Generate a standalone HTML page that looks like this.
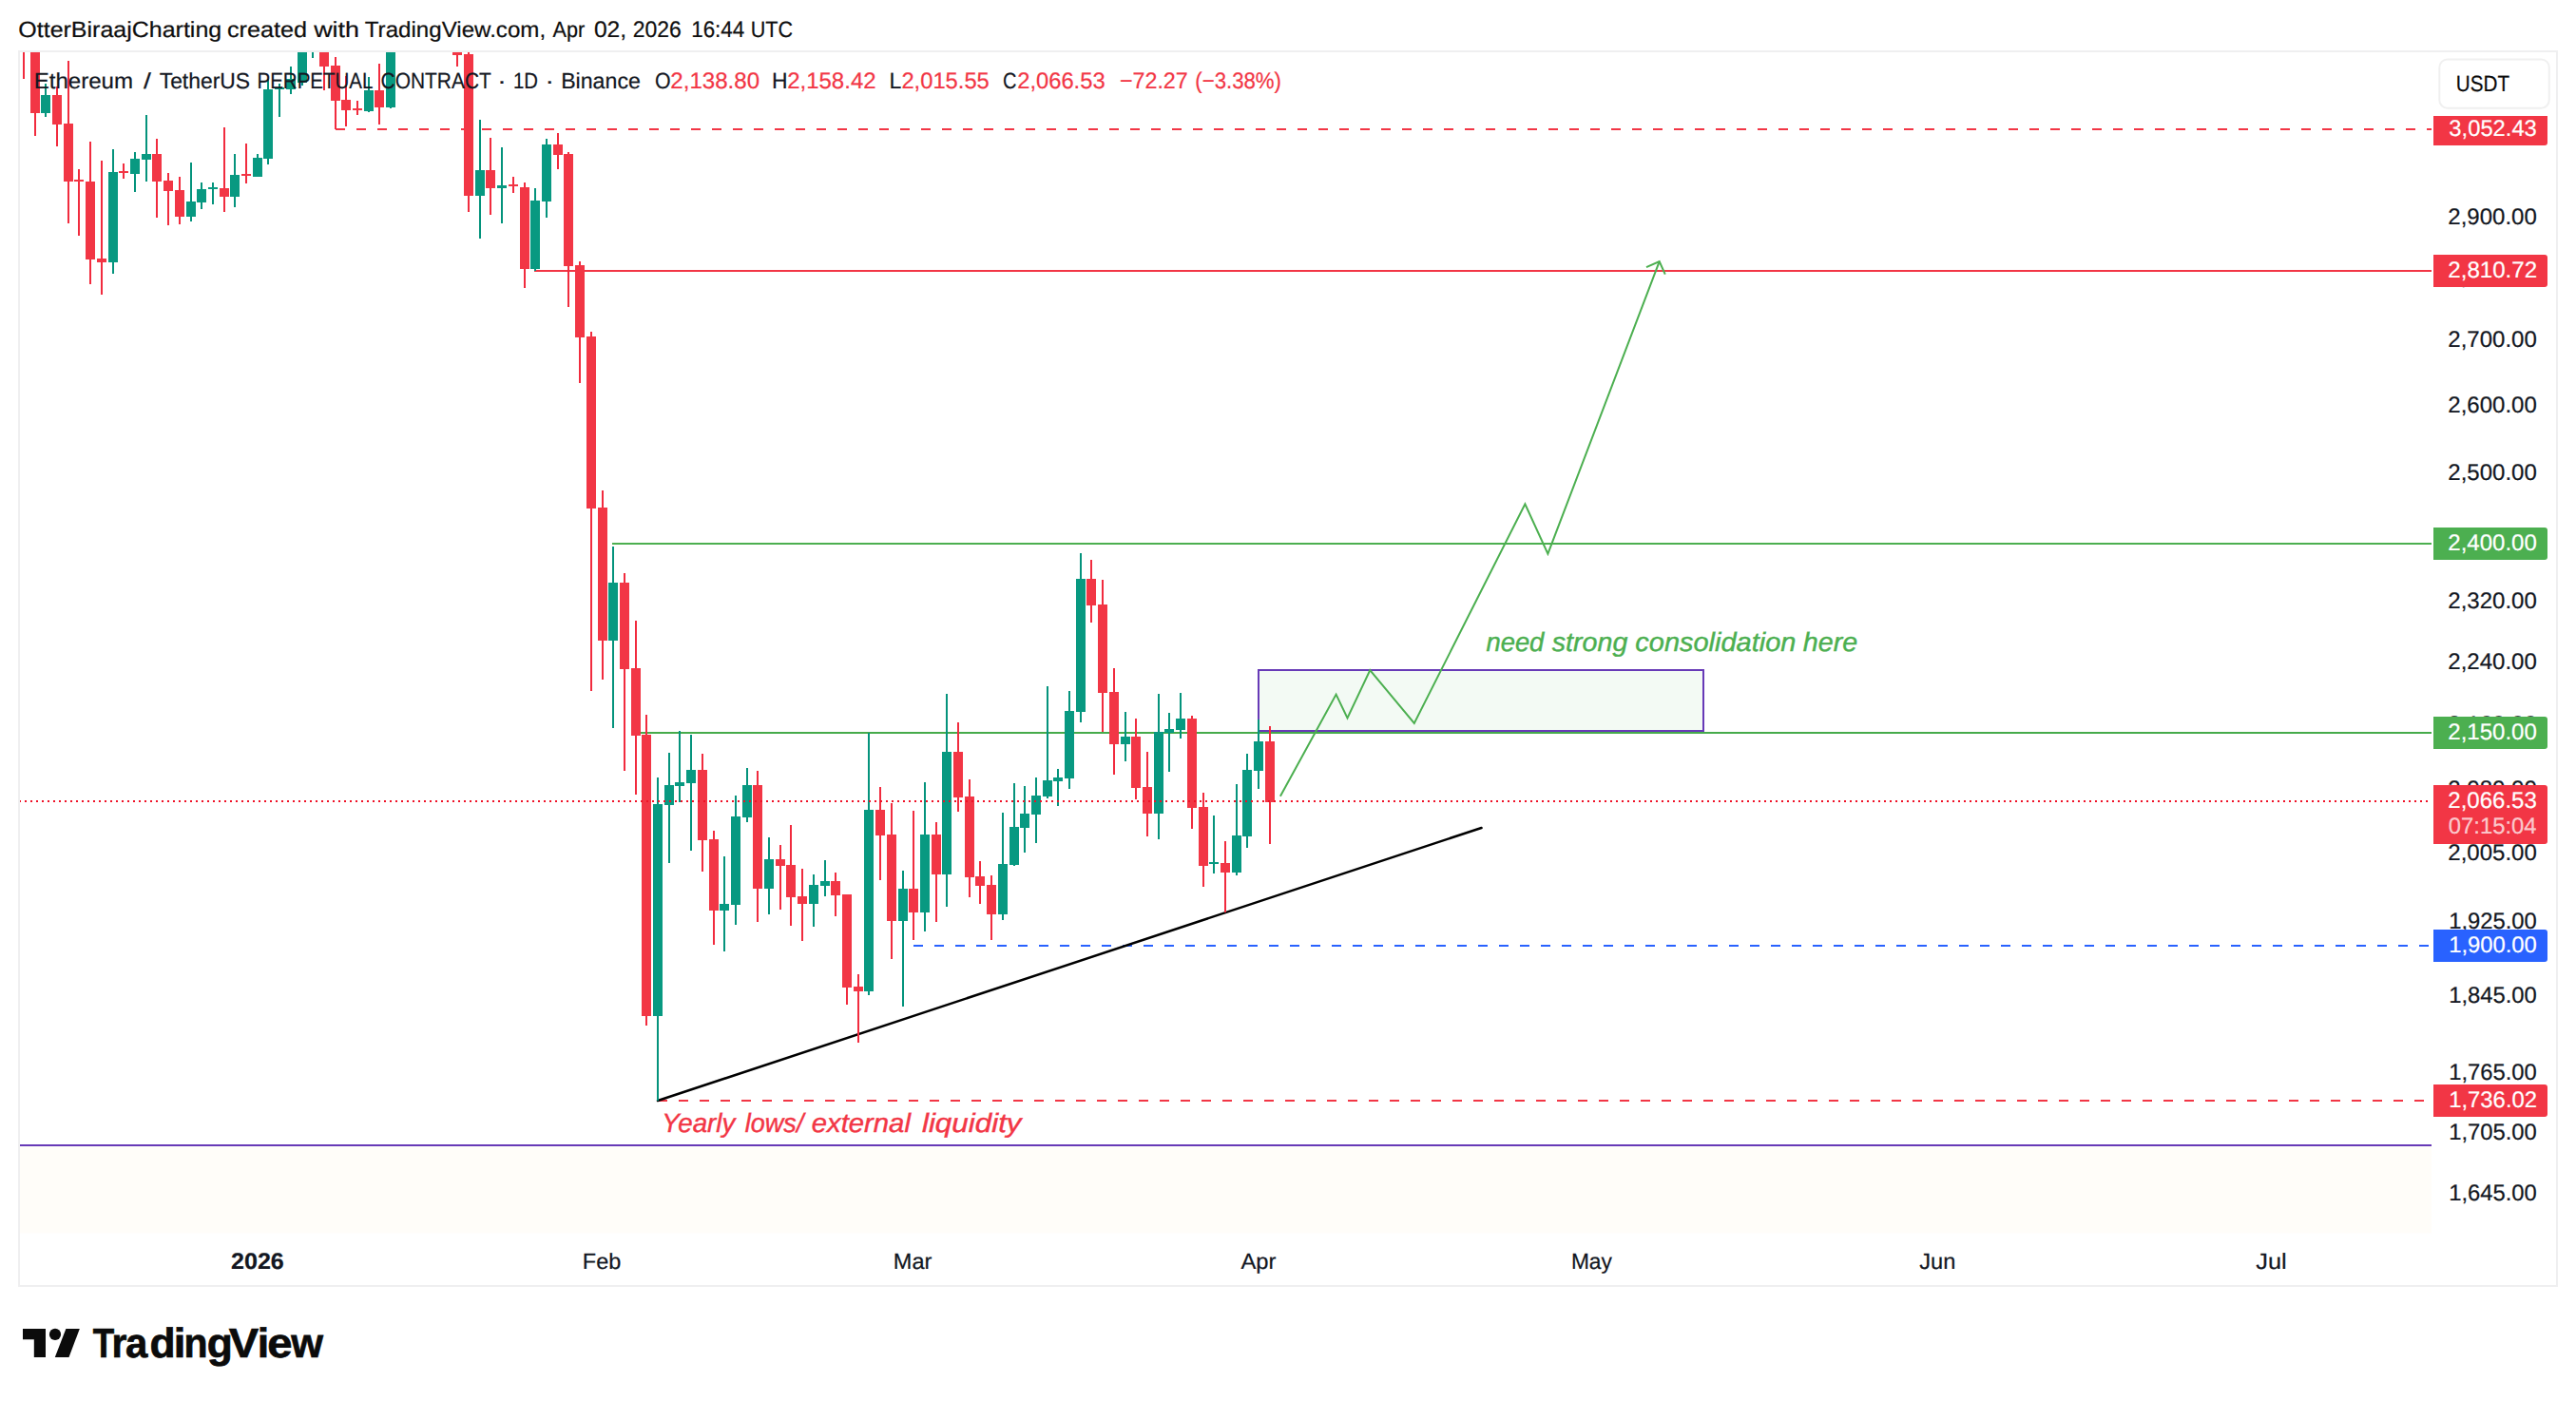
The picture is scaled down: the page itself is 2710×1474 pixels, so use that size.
<!DOCTYPE html>
<html><head><meta charset="utf-8"><title>ETHUSDT.P chart</title>
<style>html,body{margin:0;padding:0;background:#fff}svg{display:block}text{font-family:"Liberation Sans",Arial,sans-serif;white-space:pre;text-rendering:geometricPrecision}</style>
</head><body>
<svg width="2710" height="1474" viewBox="0 0 2710 1474">
<defs><clipPath id="pane"><rect x="21" y="55" width="2537" height="1243"/></clipPath></defs>
<rect width="2710" height="1474" fill="#fff"/>
<!-- header -->
<text><tspan x="19.33" y="38.8" font-size="23.3" fill="#0F0F0F" textLength="213.88" lengthAdjust="spacingAndGlyphs" stroke="#0F0F0F" stroke-width="0.22">OtterBiraajCharting</tspan> <tspan x="238.92" y="38.8" font-size="23.3" fill="#0F0F0F" textLength="84.07" lengthAdjust="spacingAndGlyphs" stroke="#0F0F0F" stroke-width="0.22">created</tspan> <tspan x="330.20" y="38.8" font-size="23.3" fill="#0F0F0F" textLength="47.86" lengthAdjust="spacingAndGlyphs" stroke="#0F0F0F" stroke-width="0.22">with</tspan> <tspan x="383.78" y="38.8" font-size="23.3" fill="#0F0F0F" textLength="190.32" lengthAdjust="spacingAndGlyphs" stroke="#0F0F0F" stroke-width="0.22">TradingView.com,</tspan> <tspan x="581.60" y="38.8" font-size="23.3" fill="#0F0F0F" textLength="33.65" lengthAdjust="spacingAndGlyphs" stroke="#0F0F0F" stroke-width="0.22">Apr</tspan> <tspan x="624.93" y="38.8" font-size="24.0" fill="#0F0F0F" textLength="34.25" lengthAdjust="spacingAndGlyphs" stroke="#0F0F0F" stroke-width="0.22">02,</tspan> <tspan x="665.74" y="38.8" font-size="24.0" fill="#0F0F0F" textLength="51.11" lengthAdjust="spacingAndGlyphs" stroke="#0F0F0F" stroke-width="0.22">2026</tspan> <tspan x="727.16" y="38.8" font-size="24.0" fill="#0F0F0F" textLength="56.16" lengthAdjust="spacingAndGlyphs" stroke="#0F0F0F" stroke-width="0.22">16:44</tspan> <tspan x="789.80" y="38.8" font-size="23.6" fill="#0F0F0F" textLength="44.31" lengthAdjust="spacingAndGlyphs" stroke="#0F0F0F" stroke-width="0.22">UTC</tspan></text>
<g clip-path="url(#pane)">
<!-- cream zone -->
<rect x="21" y="1206" width="2537" height="91.5" fill="#FFFDF9"/>
<rect x="21" y="1204" width="2537" height="2" fill="#673AB7"/>
<!-- horizontal rays -->
<line x1="353" y1="136" x2="2558" y2="136" stroke="#F23645" stroke-width="2" stroke-dasharray="10 12"/>
<rect x="562" y="284" width="1996" height="2" fill="#F23645"/>
<rect x="644" y="571" width="1914" height="2" fill="#4CAF50"/>
<rect x="668" y="770" width="1890" height="2" fill="#46AB4B"/>
<line x1="961" y1="995" x2="2558" y2="995" stroke="#2962FF" stroke-width="2" stroke-dasharray="10 12"/>
<line x1="692" y1="1158" x2="2558" y2="1158" stroke="#F23645" stroke-width="2" stroke-dasharray="10 12"/>
<!-- consolidation box -->
<rect x="1324" y="705" width="468" height="64" fill="#F3FAF4" stroke="#673AB7" stroke-width="2"/>
<!-- trendline -->
<line x1="692" y1="1158" x2="1558.5" y2="871" stroke="#000" stroke-width="2.5" stroke-linecap="round"/>
<!-- projection path -->
<polyline points="1346.9,837.8 1405.6,730.6 1417.5,755.4 1441.3,705 1487.8,760.9 1604.4,530.3 1628.4,582.7 1745.7,275.1" fill="none" stroke="#4CAF50" stroke-width="2" stroke-linejoin="miter" stroke-linecap="butt"/>
<polyline points="1732,281.2 1745.7,275.1 1751.8,288.7" fill="none" stroke="#4CAF50" stroke-width="2"/>
<text><tspan x="1563.41" y="684.7" font-size="28.1" fill="#4CAF50" textLength="60.96" lengthAdjust="spacingAndGlyphs" font-style="italic" stroke="#4CAF50" stroke-width="0.4">need</tspan> <tspan x="1632.70" y="684.7" font-size="28.1" fill="#4CAF50" textLength="79.65" lengthAdjust="spacingAndGlyphs" font-style="italic" stroke="#4CAF50" stroke-width="0.4">strong</tspan> <tspan x="1720.33" y="684.7" font-size="28.1" fill="#4CAF50" textLength="169.06" lengthAdjust="spacingAndGlyphs" font-style="italic" stroke="#4CAF50" stroke-width="0.4">consolidation</tspan> <tspan x="1896.79" y="684.7" font-size="28.1" fill="#4CAF50" textLength="57.42" lengthAdjust="spacingAndGlyphs" font-style="italic" stroke="#4CAF50" stroke-width="0.4">here</tspan></text><text><tspan x="696.24" y="1191.4" font-size="28.1" fill="#F23645" textLength="77.17" lengthAdjust="spacingAndGlyphs" font-style="italic" stroke="#F23645" stroke-width="0.4">Yearly</tspan> <tspan x="783.82" y="1191.4" font-size="28.1" fill="#F23645" textLength="61.59" lengthAdjust="spacingAndGlyphs" font-style="italic" stroke="#F23645" stroke-width="0.4">lows/</tspan><tspan x="853.72" y="1191.4" font-size="28.1" fill="#F23645" textLength="104.21" lengthAdjust="spacingAndGlyphs" font-style="italic" stroke="#F23645" stroke-width="0.4">external</tspan> <tspan x="969.94" y="1191.4" font-size="28.1" fill="#F23645" textLength="104.61" lengthAdjust="spacingAndGlyphs" font-style="italic" stroke="#F23645" stroke-width="0.4">liquidity</tspan></text>
<!-- candles -->
<rect x="24" y="40" width="2" height="43" fill="#F12B3E"/>
<rect x="36" y="40" width="2" height="103" fill="#F12B3E"/>
<rect x="32" y="40" width="10" height="79" fill="#F23645"/>
<rect x="47" y="88" width="2" height="35" fill="#04937C"/>
<rect x="43" y="100" width="10" height="19" fill="#089981"/>
<rect x="59" y="91" width="2" height="63" fill="#F12B3E"/>
<rect x="55" y="100" width="10" height="31" fill="#F23645"/>
<rect x="71" y="64" width="2" height="171" fill="#F12B3E"/>
<rect x="67" y="130" width="10" height="61" fill="#F23645"/>
<rect x="82" y="178" width="2" height="70" fill="#F12B3E"/>
<rect x="78" y="189" width="10" height="2" fill="#F23645"/>
<rect x="94" y="149" width="2" height="150" fill="#F12B3E"/>
<rect x="90" y="191" width="10" height="82" fill="#F23645"/>
<rect x="106" y="169" width="2" height="141" fill="#F12B3E"/>
<rect x="102" y="272" width="10" height="4" fill="#F23645"/>
<rect x="118" y="157" width="2" height="131" fill="#04937C"/>
<rect x="114" y="181" width="10" height="95" fill="#089981"/>
<rect x="129" y="172" width="2" height="16" fill="#F12B3E"/>
<rect x="125" y="180" width="10" height="2" fill="#F23645"/>
<rect x="141" y="160" width="2" height="42" fill="#04937C"/>
<rect x="137" y="167" width="10" height="16" fill="#089981"/>
<rect x="153" y="121" width="2" height="70" fill="#04937C"/>
<rect x="149" y="162" width="10" height="6" fill="#089981"/>
<rect x="164" y="146" width="2" height="83" fill="#F12B3E"/>
<rect x="160" y="162" width="10" height="29" fill="#F23645"/>
<rect x="176" y="182" width="2" height="55" fill="#F12B3E"/>
<rect x="172" y="190" width="10" height="11" fill="#F23645"/>
<rect x="188" y="186" width="2" height="50" fill="#F12B3E"/>
<rect x="184" y="200" width="10" height="28" fill="#F23645"/>
<rect x="200" y="171" width="2" height="62" fill="#04937C"/>
<rect x="196" y="212" width="10" height="16" fill="#089981"/>
<rect x="211" y="192" width="2" height="28" fill="#04937C"/>
<rect x="207" y="199" width="10" height="14" fill="#089981"/>
<rect x="223" y="192" width="2" height="23" fill="#04937C"/>
<rect x="219" y="197" width="10" height="2" fill="#089981"/>
<rect x="235" y="134" width="2" height="89" fill="#F12B3E"/>
<rect x="231" y="198" width="10" height="9" fill="#F23645"/>
<rect x="246" y="162" width="2" height="56" fill="#04937C"/>
<rect x="242" y="184" width="10" height="23" fill="#089981"/>
<rect x="258" y="151" width="2" height="42" fill="#F12B3E"/>
<rect x="254" y="183" width="10" height="2" fill="#F23645"/>
<rect x="270" y="162" width="2" height="24" fill="#04937C"/>
<rect x="266" y="166" width="10" height="20" fill="#089981"/>
<rect x="281" y="83" width="2" height="90" fill="#04937C"/>
<rect x="277" y="94" width="10" height="73" fill="#089981"/>
<rect x="293" y="88" width="2" height="35" fill="#04937C"/>
<rect x="289" y="92" width="10" height="2" fill="#089981"/>
<rect x="305" y="70" width="2" height="29" fill="#04937C"/>
<rect x="301" y="83" width="10" height="11" fill="#089981"/>
<rect x="317" y="40" width="2" height="50" fill="#04937C"/>
<rect x="313" y="40" width="10" height="47" fill="#089981"/>
<rect x="328" y="40" width="2" height="21" fill="#04937C"/>
<rect x="340" y="40" width="2" height="55" fill="#F12B3E"/>
<rect x="336" y="40" width="10" height="30" fill="#F23645"/>
<rect x="352" y="60" width="2" height="76" fill="#F12B3E"/>
<rect x="348" y="69" width="10" height="37" fill="#F23645"/>
<rect x="363" y="80" width="2" height="53" fill="#F12B3E"/>
<rect x="359" y="105" width="10" height="11" fill="#F23645"/>
<rect x="375" y="106" width="2" height="15" fill="#F12B3E"/>
<rect x="371" y="114" width="10" height="2" fill="#F23645"/>
<rect x="387" y="81" width="2" height="37" fill="#04937C"/>
<rect x="383" y="95" width="10" height="22" fill="#089981"/>
<rect x="398" y="67" width="2" height="64" fill="#F12B3E"/>
<rect x="394" y="95" width="10" height="18" fill="#F23645"/>
<rect x="410" y="40" width="2" height="74" fill="#04937C"/>
<rect x="406" y="40" width="10" height="73" fill="#089981"/>
<rect x="480" y="40" width="2" height="30" fill="#F12B3E"/>
<rect x="476" y="40" width="10" height="18" fill="#F23645"/>
<rect x="492" y="54" width="2" height="169" fill="#F12B3E"/>
<rect x="488" y="57" width="10" height="149" fill="#F23645"/>
<rect x="504" y="126" width="2" height="125" fill="#04937C"/>
<rect x="500" y="179" width="10" height="27" fill="#089981"/>
<rect x="515" y="145" width="2" height="81" fill="#F12B3E"/>
<rect x="511" y="179" width="10" height="19" fill="#F23645"/>
<rect x="527" y="155" width="2" height="80" fill="#04937C"/>
<rect x="523" y="195" width="10" height="3" fill="#089981"/>
<rect x="539" y="186" width="2" height="17" fill="#F12B3E"/>
<rect x="535" y="194" width="10" height="2" fill="#F23645"/>
<rect x="551" y="192" width="2" height="111" fill="#F12B3E"/>
<rect x="547" y="197" width="10" height="86" fill="#F23645"/>
<rect x="562" y="198" width="2" height="87" fill="#04937C"/>
<rect x="558" y="211" width="10" height="72" fill="#089981"/>
<rect x="574" y="146" width="2" height="83" fill="#04937C"/>
<rect x="570" y="152" width="10" height="60" fill="#089981"/>
<rect x="586" y="140" width="2" height="38" fill="#F12B3E"/>
<rect x="582" y="152" width="10" height="11" fill="#F23645"/>
<rect x="597" y="160" width="2" height="163" fill="#F12B3E"/>
<rect x="593" y="162" width="10" height="118" fill="#F23645"/>
<rect x="609" y="275" width="2" height="128" fill="#F12B3E"/>
<rect x="605" y="279" width="10" height="76" fill="#F23645"/>
<rect x="621" y="349" width="2" height="378" fill="#F12B3E"/>
<rect x="617" y="354" width="10" height="181" fill="#F23645"/>
<rect x="633" y="516" width="2" height="199" fill="#F12B3E"/>
<rect x="629" y="534" width="10" height="140" fill="#F23645"/>
<rect x="644" y="575" width="2" height="191" fill="#04937C"/>
<rect x="640" y="613" width="10" height="61" fill="#089981"/>
<rect x="656" y="603" width="2" height="208" fill="#F12B3E"/>
<rect x="652" y="613" width="10" height="91" fill="#F23645"/>
<rect x="668" y="653" width="2" height="183" fill="#F12B3E"/>
<rect x="664" y="703" width="10" height="71" fill="#F23645"/>
<rect x="679" y="752" width="2" height="327" fill="#F12B3E"/>
<rect x="675" y="773" width="10" height="296" fill="#F23645"/>
<rect x="691" y="818" width="2" height="340" fill="#04937C"/>
<rect x="687" y="846" width="10" height="223" fill="#089981"/>
<rect x="703" y="792" width="2" height="116" fill="#04937C"/>
<rect x="699" y="826" width="10" height="21" fill="#089981"/>
<rect x="714" y="769" width="2" height="75" fill="#04937C"/>
<rect x="710" y="823" width="10" height="4" fill="#089981"/>
<rect x="726" y="773" width="2" height="122" fill="#04937C"/>
<rect x="722" y="810" width="10" height="14" fill="#089981"/>
<rect x="738" y="793" width="2" height="124" fill="#F12B3E"/>
<rect x="734" y="810" width="10" height="74" fill="#F23645"/>
<rect x="750" y="874" width="2" height="120" fill="#F12B3E"/>
<rect x="746" y="883" width="10" height="75" fill="#F23645"/>
<rect x="761" y="901" width="2" height="100" fill="#04937C"/>
<rect x="757" y="951" width="10" height="7" fill="#089981"/>
<rect x="773" y="837" width="2" height="136" fill="#04937C"/>
<rect x="769" y="859" width="10" height="93" fill="#089981"/>
<rect x="785" y="808" width="2" height="57" fill="#04937C"/>
<rect x="781" y="826" width="10" height="34" fill="#089981"/>
<rect x="796" y="811" width="2" height="159" fill="#F12B3E"/>
<rect x="792" y="826" width="10" height="109" fill="#F23645"/>
<rect x="808" y="881" width="2" height="81" fill="#04937C"/>
<rect x="804" y="904" width="10" height="31" fill="#089981"/>
<rect x="820" y="889" width="2" height="68" fill="#F12B3E"/>
<rect x="816" y="904" width="10" height="7" fill="#F23645"/>
<rect x="831" y="868" width="2" height="106" fill="#F12B3E"/>
<rect x="827" y="910" width="10" height="34" fill="#F23645"/>
<rect x="843" y="914" width="2" height="76" fill="#F12B3E"/>
<rect x="839" y="943" width="10" height="8" fill="#F23645"/>
<rect x="855" y="920" width="2" height="55" fill="#04937C"/>
<rect x="851" y="931" width="10" height="20" fill="#089981"/>
<rect x="867" y="905" width="2" height="38" fill="#04937C"/>
<rect x="863" y="927" width="10" height="5" fill="#089981"/>
<rect x="878" y="918" width="2" height="46" fill="#F12B3E"/>
<rect x="874" y="927" width="10" height="15" fill="#F23645"/>
<rect x="890" y="941" width="2" height="116" fill="#F12B3E"/>
<rect x="886" y="941" width="10" height="98" fill="#F23645"/>
<rect x="902" y="1025" width="2" height="72" fill="#F12B3E"/>
<rect x="898" y="1038" width="10" height="5" fill="#F23645"/>
<rect x="913" y="771" width="2" height="276" fill="#04937C"/>
<rect x="909" y="852" width="10" height="191" fill="#089981"/>
<rect x="925" y="828" width="2" height="98" fill="#F12B3E"/>
<rect x="921" y="852" width="10" height="27" fill="#F23645"/>
<rect x="937" y="845" width="2" height="164" fill="#F12B3E"/>
<rect x="933" y="878" width="10" height="91" fill="#F23645"/>
<rect x="949" y="916" width="2" height="143" fill="#04937C"/>
<rect x="945" y="935" width="10" height="34" fill="#089981"/>
<rect x="960" y="853" width="2" height="136" fill="#F12B3E"/>
<rect x="956" y="935" width="10" height="25" fill="#F23645"/>
<rect x="972" y="823" width="2" height="157" fill="#04937C"/>
<rect x="968" y="878" width="10" height="82" fill="#089981"/>
<rect x="984" y="865" width="2" height="105" fill="#F12B3E"/>
<rect x="980" y="878" width="10" height="42" fill="#F23645"/>
<rect x="995" y="730" width="2" height="224" fill="#04937C"/>
<rect x="991" y="791" width="10" height="129" fill="#089981"/>
<rect x="1007" y="760" width="2" height="94" fill="#F12B3E"/>
<rect x="1003" y="791" width="10" height="48" fill="#F23645"/>
<rect x="1019" y="820" width="2" height="124" fill="#F12B3E"/>
<rect x="1015" y="838" width="10" height="85" fill="#F23645"/>
<rect x="1030" y="906" width="2" height="45" fill="#F12B3E"/>
<rect x="1026" y="922" width="10" height="10" fill="#F23645"/>
<rect x="1042" y="921" width="2" height="68" fill="#F12B3E"/>
<rect x="1038" y="931" width="10" height="31" fill="#F23645"/>
<rect x="1054" y="855" width="2" height="113" fill="#04937C"/>
<rect x="1050" y="909" width="10" height="53" fill="#089981"/>
<rect x="1066" y="824" width="2" height="87" fill="#04937C"/>
<rect x="1062" y="870" width="10" height="40" fill="#089981"/>
<rect x="1077" y="827" width="2" height="70" fill="#04937C"/>
<rect x="1073" y="856" width="10" height="15" fill="#089981"/>
<rect x="1089" y="818" width="2" height="69" fill="#04937C"/>
<rect x="1085" y="837" width="10" height="20" fill="#089981"/>
<rect x="1101" y="722" width="2" height="118" fill="#04937C"/>
<rect x="1097" y="821" width="10" height="17" fill="#089981"/>
<rect x="1112" y="809" width="2" height="39" fill="#04937C"/>
<rect x="1108" y="818" width="10" height="4" fill="#089981"/>
<rect x="1124" y="727" width="2" height="103" fill="#04937C"/>
<rect x="1120" y="748" width="10" height="71" fill="#089981"/>
<rect x="1136" y="582" width="2" height="178" fill="#04937C"/>
<rect x="1132" y="609" width="10" height="140" fill="#089981"/>
<rect x="1147" y="589" width="2" height="66" fill="#F12B3E"/>
<rect x="1143" y="609" width="10" height="28" fill="#F23645"/>
<rect x="1159" y="610" width="2" height="160" fill="#F12B3E"/>
<rect x="1155" y="636" width="10" height="93" fill="#F23645"/>
<rect x="1171" y="703" width="2" height="112" fill="#F12B3E"/>
<rect x="1167" y="728" width="10" height="55" fill="#F23645"/>
<rect x="1183" y="749" width="2" height="52" fill="#04937C"/>
<rect x="1179" y="775" width="10" height="8" fill="#089981"/>
<rect x="1194" y="756" width="2" height="85" fill="#F12B3E"/>
<rect x="1190" y="775" width="10" height="54" fill="#F23645"/>
<rect x="1206" y="791" width="2" height="89" fill="#F12B3E"/>
<rect x="1202" y="828" width="10" height="28" fill="#F23645"/>
<rect x="1218" y="730" width="2" height="153" fill="#04937C"/>
<rect x="1214" y="770" width="10" height="86" fill="#089981"/>
<rect x="1229" y="750" width="2" height="62" fill="#04937C"/>
<rect x="1225" y="767" width="10" height="4" fill="#089981"/>
<rect x="1241" y="729" width="2" height="48" fill="#04937C"/>
<rect x="1237" y="756" width="10" height="12" fill="#089981"/>
<rect x="1253" y="753" width="2" height="119" fill="#F12B3E"/>
<rect x="1249" y="756" width="10" height="94" fill="#F23645"/>
<rect x="1265" y="834" width="2" height="99" fill="#F12B3E"/>
<rect x="1261" y="849" width="10" height="62" fill="#F23645"/>
<rect x="1276" y="858" width="2" height="61" fill="#04937C"/>
<rect x="1272" y="907" width="10" height="2" fill="#089981"/>
<rect x="1288" y="885" width="2" height="75" fill="#F12B3E"/>
<rect x="1284" y="908" width="10" height="10" fill="#F23645"/>
<rect x="1300" y="825" width="2" height="96" fill="#04937C"/>
<rect x="1296" y="879" width="10" height="39" fill="#089981"/>
<rect x="1311" y="793" width="2" height="99" fill="#04937C"/>
<rect x="1307" y="810" width="10" height="70" fill="#089981"/>
<rect x="1323" y="757" width="2" height="73" fill="#04937C"/>
<rect x="1319" y="780" width="10" height="31" fill="#089981"/>
<rect x="1335" y="764" width="2" height="124" fill="#F12B3E"/>
<rect x="1331" y="780" width="10" height="64" fill="#F23645"/>
<!-- last price line -->
<line x1="20" y1="843" x2="2558" y2="843" stroke="#EF1126" stroke-width="2" stroke-dasharray="2 4"/>
</g>
<!-- price axis -->
<text><tspan x="2575.30" y="236.0" font-size="24.0" fill="#131722" textLength="93.52" lengthAdjust="spacingAndGlyphs" stroke="#131722" stroke-width="0.22">2,900.00</tspan></text>
<text><tspan x="2575.30" y="299.4" font-size="24.0" fill="#131722" textLength="93.52" lengthAdjust="spacingAndGlyphs" stroke="#131722" stroke-width="0.22">2,800.00</tspan></text>
<text><tspan x="2575.30" y="578.6" font-size="24.0" fill="#131722" textLength="93.52" lengthAdjust="spacingAndGlyphs" stroke="#131722" stroke-width="0.22">2,400.00</tspan></text>
<text><tspan x="2575.30" y="364.9" font-size="24.0" fill="#131722" textLength="93.52" lengthAdjust="spacingAndGlyphs" stroke="#131722" stroke-width="0.22">2,700.00</tspan></text>
<text><tspan x="2575.30" y="433.9" font-size="24.0" fill="#131722" textLength="93.52" lengthAdjust="spacingAndGlyphs" stroke="#131722" stroke-width="0.22">2,600.00</tspan></text>
<text><tspan x="2575.30" y="504.9" font-size="24.0" fill="#131722" textLength="93.52" lengthAdjust="spacingAndGlyphs" stroke="#131722" stroke-width="0.22">2,500.00</tspan></text>
<text><tspan x="2575.30" y="640.1" font-size="24.0" fill="#131722" textLength="93.52" lengthAdjust="spacingAndGlyphs" stroke="#131722" stroke-width="0.22">2,320.00</tspan></text>
<text><tspan x="2575.30" y="704.3" font-size="24.0" fill="#131722" textLength="93.52" lengthAdjust="spacingAndGlyphs" stroke="#131722" stroke-width="0.22">2,240.00</tspan></text>
<text><tspan x="2575.30" y="769.5" font-size="24.0" fill="#131722" textLength="93.52" lengthAdjust="spacingAndGlyphs" stroke="#131722" stroke-width="0.22">2,160.00</tspan></text>
<text><tspan x="2575.30" y="837.8" font-size="24.0" fill="#131722" textLength="93.52" lengthAdjust="spacingAndGlyphs" stroke="#131722" stroke-width="0.22">2,080.00</tspan></text>
<text><tspan x="2575.30" y="904.8" font-size="24.0" fill="#131722" textLength="93.52" lengthAdjust="spacingAndGlyphs" stroke="#131722" stroke-width="0.22">2,005.00</tspan></text>
<text><tspan x="2576.16" y="977.2" font-size="24.0" fill="#131722" textLength="92.65" lengthAdjust="spacingAndGlyphs" stroke="#131722" stroke-width="0.22">1,925.00</tspan></text>
<text><tspan x="2576.16" y="1054.9" font-size="24.0" fill="#131722" textLength="92.65" lengthAdjust="spacingAndGlyphs" stroke="#131722" stroke-width="0.22">1,845.00</tspan></text>
<text><tspan x="2576.16" y="1135.6" font-size="24.0" fill="#131722" textLength="92.65" lengthAdjust="spacingAndGlyphs" stroke="#131722" stroke-width="0.22">1,765.00</tspan></text>
<text><tspan x="2576.16" y="1198.8" font-size="24.0" fill="#131722" textLength="92.65" lengthAdjust="spacingAndGlyphs" stroke="#131722" stroke-width="0.22">1,705.00</tspan></text>
<text><tspan x="2576.16" y="1263.1" font-size="24.0" fill="#131722" textLength="92.65" lengthAdjust="spacingAndGlyphs" stroke="#131722" stroke-width="0.22">1,645.00</tspan></text>
<path d="M2560 122H2680V150a3 3 0 0 1 -3 3H2560Z" fill="#F23645"/><text><tspan x="2576.36" y="143.1" font-size="24.0" fill="#fff" textLength="92.45" lengthAdjust="spacingAndGlyphs" stroke="#fff" stroke-width="0.22">3,052.43</tspan></text>
<path d="M2560 268H2677a3 3 0 0 1 3 3V299a3 3 0 0 1 -3 3H2560Z" fill="#F23645"/><text><tspan x="2575.30" y="292.1" font-size="24.0" fill="#fff" textLength="93.78" lengthAdjust="spacingAndGlyphs" stroke="#fff" stroke-width="0.22">2,810.72</tspan></text>
<path d="M2560 555H2677a3 3 0 0 1 3 3V586a3 3 0 0 1 -3 3H2560Z" fill="#4CAF50"/><text><tspan x="2575.30" y="579.1" font-size="24.0" fill="#fff" textLength="93.52" lengthAdjust="spacingAndGlyphs" stroke="#fff" stroke-width="0.22">2,400.00</tspan></text>
<path d="M2560 754H2677a3 3 0 0 1 3 3V785a3 3 0 0 1 -3 3H2560Z" fill="#4CAF50"/><text><tspan x="2575.30" y="778.1" font-size="24.0" fill="#fff" textLength="93.52" lengthAdjust="spacingAndGlyphs" stroke="#fff" stroke-width="0.22">2,150.00</tspan></text>
<path d="M2560 978H2677a3 3 0 0 1 3 3V1009a3 3 0 0 1 -3 3H2560Z" fill="#2962FF"/><text><tspan x="2576.16" y="1002.1" font-size="24.0" fill="#fff" textLength="92.65" lengthAdjust="spacingAndGlyphs" stroke="#fff" stroke-width="0.22">1,900.00</tspan></text>
<path d="M2560 1141H2677a3 3 0 0 1 3 3V1172a3 3 0 0 1 -3 3H2560Z" fill="#F23645"/><text><tspan x="2576.16" y="1165.1" font-size="24.0" fill="#fff" textLength="92.91" lengthAdjust="spacingAndGlyphs" stroke="#fff" stroke-width="0.22">1,736.02</tspan></text>
<path d="M2560 826H2677a3 3 0 0 1 3 3V885a3 3 0 0 1 -3 3H2560Z" fill="#F23645"/><text><tspan x="2575.30" y="849.9" font-size="24.0" fill="#fff" textLength="93.52" lengthAdjust="spacingAndGlyphs" stroke="#fff" stroke-width="0.22">2,066.53</tspan></text><text><tspan x="2575.75" y="877.4" font-size="24.0" fill="#fff" textLength="92.81" lengthAdjust="spacingAndGlyphs" fill-opacity="0.72" stroke="#fff" stroke-width="0.22" stroke-opacity="0.72">07:15:04</tspan></text>
<!-- currency button -->
<rect x="2566.3" y="62.4" width="115.5" height="51.4" rx="8.5" fill="#fff" stroke="#F0F0F0" stroke-width="2"/>
<text><tspan x="2583.87" y="96.0" font-size="23.6" fill="#0A0A0A" textLength="56.15" lengthAdjust="spacingAndGlyphs" stroke="#0A0A0A" stroke-width="0.22">USDT</tspan></text>
<!-- time axis -->
<text><tspan x="243.02" y="1334.8" font-size="24.0" fill="#131722" textLength="55.75" lengthAdjust="spacingAndGlyphs" font-weight="bold" stroke="#131722" stroke-width="0.22">2026</tspan></text><text><tspan x="612.84" y="1334.8" font-size="23.3" fill="#131722" textLength="40.48" lengthAdjust="spacingAndGlyphs" stroke="#131722" stroke-width="0.22">Feb</tspan></text><text><tspan x="939.83" y="1334.8" font-size="23.3" fill="#131722" textLength="40.55" lengthAdjust="spacingAndGlyphs" stroke="#131722" stroke-width="0.22">Mar</tspan></text><text><tspan x="1305.40" y="1334.8" font-size="23.3" fill="#131722" textLength="36.97" lengthAdjust="spacingAndGlyphs" stroke="#131722" stroke-width="0.22">Apr</tspan></text><text><tspan x="1652.89" y="1334.8" font-size="23.3" fill="#131722" textLength="43.03" lengthAdjust="spacingAndGlyphs" stroke="#131722" stroke-width="0.22">May</tspan></text><text><tspan x="2019.25" y="1334.8" font-size="23.3" fill="#131722" textLength="38.19" lengthAdjust="spacingAndGlyphs" stroke="#131722" stroke-width="0.22">Jun</tspan></text><text><tspan x="2373.23" y="1334.8" font-size="23.3" fill="#131722" textLength="32.44" lengthAdjust="spacingAndGlyphs" stroke="#131722" stroke-width="0.22">Jul</tspan></text>
<!-- legend -->
<text><tspan x="35.69" y="92.8" font-size="23.3" fill="#131722" textLength="104.37" lengthAdjust="spacingAndGlyphs" stroke="#131722" stroke-width="0.22">Ethereum</tspan> <tspan x="151.08" y="92.8" font-size="23.3" fill="#131722" textLength="7.91" lengthAdjust="spacingAndGlyphs" stroke="#131722" stroke-width="0.22">/</tspan> <tspan x="167.71" y="92.8" font-size="23.3" fill="#131722" textLength="95.40" lengthAdjust="spacingAndGlyphs" stroke="#131722" stroke-width="0.22">TetherUS</tspan> <tspan x="270.48" y="92.8" font-size="23.6" fill="#131722" textLength="122.00" lengthAdjust="spacingAndGlyphs" stroke="#131722" stroke-width="0.22">PERPETUAL</tspan> <tspan x="400.61" y="92.8" font-size="23.6" fill="#131722" textLength="116.20" lengthAdjust="spacingAndGlyphs" stroke="#131722" stroke-width="0.22">CONTRACT</tspan> <tspan x="523.17" y="92.8" font-size="23.3" fill="#131722" textLength="9.47" lengthAdjust="spacingAndGlyphs" stroke="#131722" stroke-width="0.22">·</tspan> <tspan x="539.99" y="92.8" font-size="23.6" fill="#131722" textLength="26.00" lengthAdjust="spacingAndGlyphs" stroke="#131722" stroke-width="0.22">1D</tspan> <tspan x="573.62" y="92.8" font-size="23.3" fill="#131722" textLength="9.47" lengthAdjust="spacingAndGlyphs" stroke="#131722" stroke-width="0.22">·</tspan> <tspan x="590.16" y="92.8" font-size="23.3" fill="#131722" textLength="83.69" lengthAdjust="spacingAndGlyphs" stroke="#131722" stroke-width="0.22">Binance</tspan> <tspan x="689.00" y="92.8" font-size="23.6" fill="#131722" textLength="16.61" lengthAdjust="spacingAndGlyphs" stroke="#131722" stroke-width="0.22">O</tspan><tspan x="705.30" y="92.8" font-size="24.0" fill="#F23645" textLength="93.73" lengthAdjust="spacingAndGlyphs" stroke="#F23645" stroke-width="0.22">2,138.80</tspan> <tspan x="812.10" y="92.8" font-size="23.6" fill="#131722" textLength="16.54" lengthAdjust="spacingAndGlyphs" stroke="#131722" stroke-width="0.22">H</tspan><tspan x="828.20" y="92.8" font-size="24.0" fill="#F23645" textLength="93.37" lengthAdjust="spacingAndGlyphs" stroke="#F23645" stroke-width="0.22">2,158.42</tspan> <tspan x="935.49" y="92.8" font-size="23.6" fill="#131722" textLength="12.82" lengthAdjust="spacingAndGlyphs" stroke="#131722" stroke-width="0.22">L</tspan><tspan x="948.41" y="92.8" font-size="24.0" fill="#F23645" textLength="92.40" lengthAdjust="spacingAndGlyphs" stroke="#F23645" stroke-width="0.22">2,015.55</tspan> <tspan x="1055.07" y="92.8" font-size="23.6" fill="#131722" textLength="14.49" lengthAdjust="spacingAndGlyphs" stroke="#131722" stroke-width="0.22">C</tspan><tspan x="1070.21" y="92.8" font-size="24.0" fill="#F23645" textLength="92.40" lengthAdjust="spacingAndGlyphs" stroke="#F23645" stroke-width="0.22">2,066.53</tspan> <tspan x="1177.93" y="92.8" font-size="24.0" fill="#F23645" textLength="71.81" lengthAdjust="spacingAndGlyphs" stroke="#F23645" stroke-width="0.22">−72.27</tspan> <tspan x="1257.31" y="92.8" font-size="24.0" fill="#F23645" textLength="90.70" lengthAdjust="spacingAndGlyphs" stroke="#F23645" stroke-width="0.22">(−3.38%)</tspan></text>
<!-- pane border -->
<rect x="20" y="54" width="2670" height="1299" fill="none" stroke="#EFEFF0" stroke-width="2"/>
<!-- footer logo -->
<g fill="#0B0B0B">
<path d="M24 1398H48V1428H35.8V1409.2H24Z"/><circle cx="58" cy="1403.9" r="6.1"/><path d="M69.4 1398H83.8L72.5 1428H57.8Z"/>
</g>
<text><tspan x="97.86" y="1428.0" font-size="43.6" fill="#0B0B0B" textLength="22.45" lengthAdjust="spacingAndGlyphs" font-weight="bold" stroke="#0B0B0B" stroke-width="0.7">T</tspan><tspan x="117.42" y="1428.0" font-size="43.6" fill="#0B0B0B" textLength="15.92" lengthAdjust="spacingAndGlyphs" font-weight="bold" stroke="#0B0B0B" stroke-width="0.7">r</tspan><tspan x="132.00" y="1428.0" font-size="43.6" fill="#0B0B0B" textLength="23.32" lengthAdjust="spacingAndGlyphs" font-weight="bold" stroke="#0B0B0B" stroke-width="0.7">a</tspan><tspan x="157.62" y="1428.0" font-size="43.6" fill="#0B0B0B" textLength="27.13" lengthAdjust="spacingAndGlyphs" font-weight="bold" stroke="#0B0B0B" stroke-width="0.7">d</tspan><tspan x="182.78" y="1428.0" font-size="43.6" fill="#0B0B0B" textLength="12.61" lengthAdjust="spacingAndGlyphs" font-weight="bold" stroke="#0B0B0B" stroke-width="0.7">i</tspan><tspan x="193.41" y="1428.0" font-size="43.6" fill="#0B0B0B" textLength="25.07" lengthAdjust="spacingAndGlyphs" font-weight="bold" stroke="#0B0B0B" stroke-width="0.7">n</tspan><tspan x="217.72" y="1428.0" font-size="43.6" fill="#0B0B0B" textLength="27.13" lengthAdjust="spacingAndGlyphs" font-weight="bold" stroke="#0B0B0B" stroke-width="0.7">g</tspan><tspan x="240.83" y="1428.0" font-size="43.6" fill="#0B0B0B" textLength="31.42" lengthAdjust="spacingAndGlyphs" font-weight="bold" stroke="#0B0B0B" stroke-width="0.7">V</tspan><tspan x="270.83" y="1428.0" font-size="43.6" fill="#0B0B0B" textLength="12.42" lengthAdjust="spacingAndGlyphs" font-weight="bold" stroke="#0B0B0B" stroke-width="0.7">i</tspan><tspan x="281.38" y="1428.0" font-size="43.6" fill="#0B0B0B" textLength="26.25" lengthAdjust="spacingAndGlyphs" font-weight="bold" stroke="#0B0B0B" stroke-width="0.7">e</tspan><tspan x="306.25" y="1428.0" font-size="43.6" fill="#0B0B0B" textLength="33.77" lengthAdjust="spacingAndGlyphs" font-weight="bold" stroke="#0B0B0B" stroke-width="0.7">w</tspan></text>
</svg>
</body></html>
